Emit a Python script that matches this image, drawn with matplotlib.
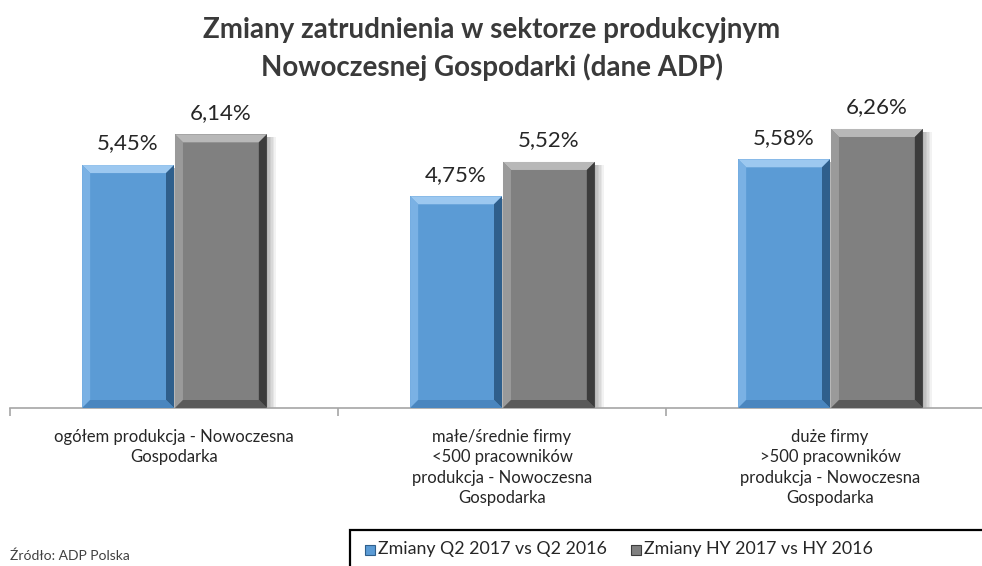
import matplotlib
matplotlib.use("Agg")
import matplotlib.pyplot as plt
from matplotlib.patches import Polygon, Rectangle
import numpy as np

# dane z wykresu
kategorie = [
    "ogółem produkcja - Nowoczesna\nGospodarka",
    "małe/średnie firmy\n<500 pracowników\nprodukcja - Nowoczesna\nGospodarka",
    "duże firmy\n>500 pracowników\nprodukcja - Nowoczesna\nGospodarka",
]
zmiany_q2 = [5.45, 4.75, 5.58]
zmiany_hy = [6.14, 5.52, 6.26]
serie = ["Zmiany Q2 2017 vs Q2 2016", "Zmiany HY 2017 vs HY 2016"]

plt.rcParams['font.family'] = ['Lato', 'DejaVu Sans']

W, H = 982, 566
fig = plt.figure(figsize=(W / 100, H / 100), dpi=100)
# obszar wykresu w pikselach: x 10..994, y 96..408
ax = fig.add_axes([10 / W, (H - 408) / H, 984 / W, 312 / H])
ax.set_xlim(-0.5, 2.5)
ax.set_ylim(0, 7.0)
for s in ["top", "right", "left"]:
    ax.spines[s].set_visible(False)
ax.spines["bottom"].set_color("#a6a6a6")
ax.spines["bottom"].set_linewidth(1.2)
ax.set_yticks([])
ax.set_xticks([-0.5, 0.5, 1.5, 2.5], minor=False)
ax.set_xticklabels([])
ax.tick_params(axis="x", length=6, color="#a6a6a6", width=1.2)
ax.patch.set_alpha(0)

x = np.arange(len(kategorie))
w = 0.28
px_x = 984 / 3.0
px_y = 312 / 7.0
kolory = [("#5b9bd5", "#9cc8f0", "#2f5f8c", "#4a86bf", "#7ab1e4"),
          ("#808080", "#b8b8b8", "#3c3c3c", "#5a5a5a", "#9a9a9a")]


def bevel(x0, y0, bw, bh, c):
    base, light, dark, bottom, left = c
    b = 8
    dx, dy = b / px_x, b / px_y
    # cien
    for k in range(6):
        ax.add_patch(Rectangle((x0 + bw, y0), (k + 1) * 1.5 / px_x, bh - 3 / px_y,
                               color="black", alpha=0.05, lw=0, zorder=1))
    ax.add_patch(Rectangle((x0, y0), bw, bh, color=base, lw=0, zorder=2))
    x1, y1 = x0 + bw, y0 + bh
    ax.add_patch(Polygon([(x0, y1), (x1, y1), (x1 - dx, y1 - dy), (x0 + dx, y1 - dy)],
                         color=light, lw=0, zorder=3))
    ax.add_patch(Polygon([(x0, y0), (x0, y1), (x0 + dx, y1 - dy), (x0 + dx, y0 + dy)],
                         color=left, lw=0, zorder=3))
    ax.add_patch(Polygon([(x1, y0), (x1, y1), (x1 - dx, y1 - dy), (x1 - dx, y0 + dy)],
                         color=dark, lw=0, zorder=3))
    ax.add_patch(Polygon([(x0, y0), (x1, y0), (x1 - dx, y0 + dy), (x0 + dx, y0 + dy)],
                         color=bottom, lw=0, zorder=3))


for i in range(len(kategorie)):
    for j, vals in enumerate([zmiany_q2, zmiany_hy]):
        xl = x[i] - w + j * (w + 0.003)
        bevel(xl, 0, w, vals[i], kolory[j])
        ax.text(xl + w / 2, vals[i] + 0.26, f"{vals[i]:.2f}".replace(".", ",") + "%",
                ha="center", va="bottom", fontsize=16, color="#262626")

for i, k in enumerate(kategorie):
    ax.text(x[i], -0.47, k, ha="center", va="top", fontsize=12, color="#262626",
            linespacing=1.33)

fig.text(492 / W, 1 - 49 / H, "Zmiany zatrudnienia w sektorze produkcyjnym\nNowoczesnej Gospodarki (dane ADP)",
         ha="center", va="center", fontsize=20, fontweight="bold", color="#3a3a3a",
         linespacing=1.45)

fig.text(10 / W, 1 - 556 / H, "Źródło: ADP Polska", ha="left", va="center",
         fontsize=10, color="#404040")

# legenda
fig.patches.append(Rectangle((350 / W, -0.01), 640 / W, (H - 530) / H + 0.01,
                             transform=fig.transFigure, fill=False, ec="black", lw=1.6))
lx = [365, 631]
for j, nazwa in enumerate(serie):
    fig.patches.append(Rectangle((lx[j] / W, 1 - 555 / H), 10 / W, 10 / H,
                                 transform=fig.transFigure, color=kolory[j][0], lw=0))
    fig.patches.append(Rectangle((lx[j] / W, 1 - 555 / H), 10 / W, 10 / H,
                                 transform=fig.transFigure, fill=False, ec=kolory[j][2], lw=0.8))
    fig.text((lx[j] + 13) / W, 1 - 549 / H, nazwa, ha="left", va="center",
             fontsize=12.8, color="#262626")

fig.savefig("out.png", dpi=100)
